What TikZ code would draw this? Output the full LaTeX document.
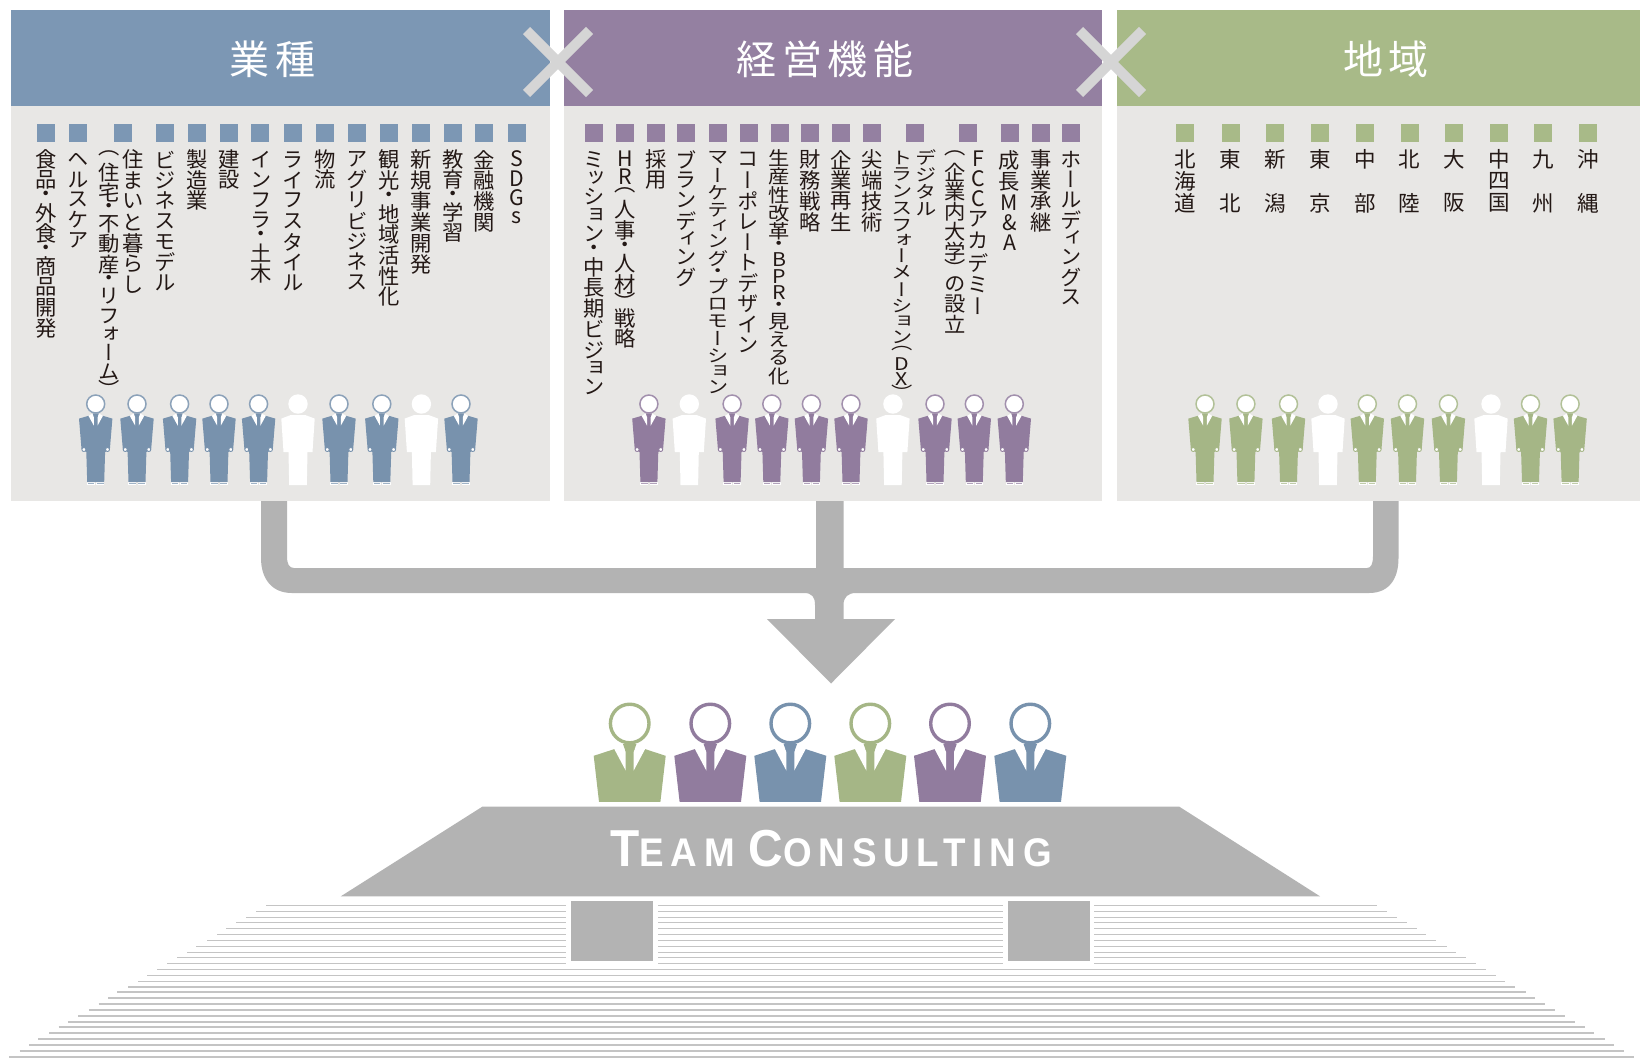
\documentclass[tikz,border=0pt]{standalone}
\usepackage{fontspec}
\usepackage{xcolor}
\newfontfamily\jpv[RawFeature={+vert}]{Noto Sans CJK JP}
\newfontfamily\jptitle[LetterSpace=14]{Noto Sans CJK JP}
\newfontfamily\capsfont[FakeStretch=0.92,LetterSpace=17]{Liberation Sans}
\definecolor{cblue}{HTML}{7C97B4}
\definecolor{cpurple}{HTML}{9480A1}
\definecolor{cgreen}{HTML}{A8BA88}
\definecolor{fblue}{HTML}{7892AD}
\definecolor{fpurple}{HTML}{917C9E}
\definecolor{fgreen}{HTML}{A5B686}
\definecolor{cpanel}{HTML}{E8E7E5}
\definecolor{cgray}{HTML}{B3B3B3}
\definecolor{ccross}{HTML}{D5D5D5}
\definecolor{cline}{HTML}{C4C4C4}
\definecolor{ctext}{HTML}{231815}
\newdimen\vbase \vbase=20.6pt
\newdimen\vpit
\newdimen\vrai
\newcommand\vfs{21.3}
\newcommand\vys{1}
\def\kDot{・}\def\kOpen{（}\def\kClose{）}\def\kA{ッ}\def\kB{ョ}\def\kC{ィ}\def\kD{ォ}
\makeatletter
\newcommand\vcellbox{%
  \vpit=\vbase \vrai=0pt
  \expandafter\ifnum\expandafter`\vc<128 \vpit=.9\vbase \fi
  \ifx\vc\kDot \vpit=.6\vbase \fi
  \ifx\vc\kOpen \vpit=.65\vbase \vrai=6pt \fi
  \ifx\vc\kClose \vpit=.65\vbase \vrai=-7.5pt \fi
  \ifx\vc\kA \vpit=.8\vbase \fi
  \ifx\vc\kB \vpit=.8\vbase \fi
  \ifx\vc\kC \vpit=.8\vbase \fi
  \ifx\vc\kD \vpit=.8\vbase \fi
  \vbox to \vpit{\vss\hbox to 22pt{\hss\raise\vrai\hbox{\scalebox{1}[\vys]{\vc}}\hss}\vss}}
\newcommand\vstack[1]{\vbox{\offinterlineskip\jpv\fontsize{\vfs}{\vfs}\selectfont\@tfor\vc:=#1\do{\vcellbox}}}
\makeatother
\newcommand\vcol[4][20.6]{\pgfmathsetmacro\vysx{min(1,#1/20.6)}\node[vtext] (#2) at (#3,149) {\vbase=#1pt\let\vys\vysx\vstack{#4}};}
\newcommand\hcol[3]{\node[vtext] (#1) at (#2,148.5) {\vbase=21.8pt\renewcommand\vfs{21.5}\vstack{#3}};}
\tikzset{
  vtext/.style={anchor=north,inner sep=0pt,text=ctext},
  title/.style={anchor=center,inner sep=0pt,text=white,font=\jptitle\fontsize{40}{40}\selectfont},
  crossbar/.style={line width=10pt,draw=ccross},
}
% small standing figure, coloured
\newcommand\smallfig[2]{%
  \begin{scope}[shift={(#1,404)}]
    \fill[white] (-8.7,78) rectangle (-0.6,81.3);
    \fill[white] (0.6,78) rectangle (8.7,81.3);
    \fill[#2!70!white] (-7.8,79.2) rectangle (-1.4,80);
    \fill[#2!70!white] (1.4,79.2) rectangle (7.8,80);
    \fill[#2] (-16.7,14.6) -- (-7.2,11.8) -- (7.2,11.8) -- (16.7,14.6) -- (14.2,45) -- (9.4,48) -- (8.5,78) -- (-8.5,78) -- (-9.4,48) -- (-14.2,45) -- cycle;
    \begin{scope}[scale=.46]
      \fill[white] (-15.7,25.7) -- (-4,47) -- (-4,28) -- (-6.7,20.6) -- cycle;
      \fill[white] (15.7,25.7) -- (4,47) -- (4,28) -- (6.7,20.6) -- cycle;
      \fill[#2] (-6.7,20.6) -- (6.7,20.6) -- (4,28) -- (-4,28) -- cycle;
    \end{scope}
    \filldraw[fill=white,draw=#2,line width=.9pt] (-11.8,45.5) circle (2);
    \filldraw[fill=white,draw=#2,line width=.9pt] (11.8,45.5) circle (2);
    \filldraw[fill=white,draw=#2!85!white,line width=1.5pt] (0,0) circle (9);
  \end{scope}}
% small standing figure, all white
\newcommand\whitefig[1]{%
  \begin{scope}[shift={(#1,404)}]
    \fill[white] (0,0) circle (9.7);
    \fill[white] (-16.7,14.6) -- (-7.2,11) -- (7.2,11) -- (16.7,14.6) -- (14.5,48) -- (9.5,48) -- (8.8,81) -- (-8.8,81) -- (-9.5,48) -- (-14.5,48) -- cycle;
  \end{scope}}
% large bust
\newcommand\bigfig[2]{%
  \begin{scope}[shift={(#1,723.5)}]
    \fill[#2] (-36,32.3) -- (-15.7,25.7) -- (15.7,25.7) -- (36,32.3) -- (30.7,78.3) -- (-30.7,78.3) -- cycle;
    \fill[white] (-15.7,25) -- (-4,47) -- (-4,28) -- (-6.7,20.6) -- cycle;
    \fill[white] (15.7,25) -- (4,47) -- (4,28) -- (6.7,20.6) -- cycle;
    \fill[#2] (-6.7,20.6) -- (6.7,20.6) -- (4,28) -- (-4,28) -- cycle;
    \draw[#2,line width=3.4pt] (0,0) circle (19.3);
  \end{scope}}
\begin{document}
\begin{tikzpicture}[x=1pt,y=-1pt]
\useasboundingbox (0,0) rectangle (1640,1058);
\fill[white] (0,0) rectangle (1640,1058);
% panels
\fill[cpanel] (11,106) rectangle (549.5,501);
\fill[cpanel] (564,106) rectangle (1102,501);
\fill[cpanel] (1117,106) rectangle (1640,501);
\fill[cblue] (11,9.5) rectangle (549.5,106);
\fill[cpurple] (564,9.5) rectangle (1102,106);
\fill[cgreen] (1117,9.5) rectangle (1640,106);
\node[title] (t1) at (272.5,59) {業種};
\node[title] (t2) at (825,59) {経営機能};
\node[title] (t3) at (1386,59) {地域};
\draw[crossbar] (526.5,30.5) -- (589.5,93.5) (526.5,93.5) -- (589.5,30.5);
\draw[crossbar] (1079.5,30.5) -- (1142.5,93.5) (1079.5,93.5) -- (1142.5,30.5);
% squares
\foreach \x in {46,78,122.6,164.7,197,229.4,260.4,293,325,357,389,421,453,484,516.5}
  \fill[cblue] (\x-9,124) rectangle (\x+9,141.5);
\foreach \x in {594.3,625.4,656.4,686.4,717.5,748.6,779.6,809.6,840.7,872,914.6,967.9,1009.6,1040.7,1070.7}
  \fill[cpurple] (\x-9,124) rectangle (\x+9,141.5);
\foreach \x in {1185.4,1230.7,1275.3,1319.9,1364.9,1409.5,1453.8,1498.8,1543.4,1588}
  \fill[cgreen] (\x-9,124) rectangle (\x+9,141.5);
% column texts, panel 1
\vcol{a1}{46}{食品・外食・商品開発}
\vcol[20.2]{a2}{78}{ヘルスケア}
\vcol[20.9]{a3}{133}{住まいと暮らし}
\vcol[20]{a3b}{109}{（住宅・不動産・リフォーム）}
\vcol{a4}{165}{ビジネスモデル}
\vcol{a5}{197}{製造業}
\vcol{a6}{229}{建設}
\vcol[20.3]{a7}{261}{インフラ・土木}
\vcol{a8}{293}{ライフスタイル}
\vcol[20.4]{a9}{325}{物流}
\vcol[20.4]{a10}{357}{アグリビジネス}
\vcol[20.8]{a11}{389}{観光・地域活性化}
\vcol[21]{a12}{421}{新規事業開発}
\vcol[20.4]{a13}{453}{教育・学習}
\vcol[21]{a14}{484.5}{金融機関}
\vcol[21.6]{a15}{516.5}{SDGs}
% panel 2
\vcol[20.7]{b1}{594.3}{ミッション・中長期ビジョン}
\vcol[20.6]{b2}{625.6}{HR（人事・人材）戦略}
\vcol{b3}{656.4}{採用}
\vcol[20.4]{b4}{686.6}{ブランディング}
\vcol[17.4]{b5}{718}{マーケティング・プロモーション}
\vcol{b6}{748.6}{コーポレートデザイン}
\vcol[18.3]{b7}{779}{生産性改革・BPR・見える化}
\vcol[20.8]{b8}{810}{財務戦略}
\vcol[20.8]{b9}{841}{企業再生}
\vcol[20.8]{b10}{872}{尖端技術}
\vcol[17]{b11}{926}{デジタル}
\vcol[16.9]{b11b}{902}{トランスフォーメーション（DX）}
\vcol[21.8]{b12}{978}{FCCアカデミー}
\vcol[19.9]{b12b}{955}{（企業内大学）の設立}
\vcol[21.9]{b13}{1009.6}{成長M\&A}
\vcol[20.8]{b14}{1040.7}{事業承継}
\vcol[20.3]{b15}{1070.7}{ホールディングス}
% panel 3
\hcol{c1}{1185.4}{北海道}
\hcol{c2}{1230.7}{東　北}
\hcol{c3}{1275.3}{新　潟}
\hcol{c4}{1319.9}{東　京}
\hcol{c5}{1364.9}{中　部}
\hcol{c6}{1409.5}{北　陸}
\hcol{c7}{1453.8}{大　阪}
\hcol{c8}{1498.8}{中四国}
\hcol{c9}{1543.4}{九　州}
\hcol{c10}{1588}{沖　縄}
% small figures
\foreach \x in {95.7,137,179.6,219,258.6,339,381.8,461} {\smallfig{\x}{fblue}}
\foreach \x in {298,421.4} {\whitefig{\x}}
\foreach \x in {648.9,732.1,771.8,811.4,851,935,974.3,1014.3} {\smallfig{\x}{fpurple}}
\foreach \x in {689.3,892.9} {\whitefig{\x}}
\foreach \x in {1205,1245.9,1288.5,1367.3,1407.5,1448.4,1530.5,1570.1} {\smallfig{\x}{fgreen}}
\foreach \x in {1328,1491} {\whitefig{\x}}
% collecting arrow
\fill[cgray] (261,501) -- (261,558) .. controls (261,579) and (272,593) .. (292,593) -- (804,593) .. controls (812,593) and (815,597) .. (815,605) -- (815,619) -- (767,619) -- (831,683.5) -- (895,619) -- (843.5,619) -- (843.5,605) .. controls (843.5,597) and (848,593) .. (856,593) -- (1369,593) .. controls (1389,593) and (1398.5,579) .. (1398.5,558) -- (1398.5,501) -- (1373,501) -- (1373,556) .. controls (1373,564) and (1371,568) .. (1367,568) -- (843.5,568) -- (843.5,501) -- (816,501) -- (816,568) -- (294,568) .. controls (289,568) and (287,564) .. (287,556) -- (287,501) -- cycle;
% big busts
\bigfig{629.7}{fgreen}
\bigfig{710.3}{fpurple}
\bigfig{790.3}{fblue}
\bigfig{870.3}{fgreen}
\bigfig{950}{fpurple}
\bigfig{1030.3}{fblue}
% roof
\fill[cgray] (482.6,806.5) -- (1179,806.5) -- (1320,896.3) -- (340.8,896.3) -- cycle;
\node[anchor=base,inner sep=0pt,text=white] (roof) at (831,866) {\capsfont\bfseries\fontsize{52}{52}\selectfont T\fontsize{40}{40}\selectfont EAM\hspace{14pt}\fontsize{52}{52}\selectfont C\fontsize{40}{40}\selectfont ONSULTING};
% pillars
\fill[cgray] (571,900.5) rectangle (652.5,960.5);
\fill[cgray] (1008.4,900.5) rectangle (1089.7,960.5);
% stripes
\foreach \yy/\xl [count=\i] in {905.7/266,911.7/256,917.7/246.4,922.7/236,928.7/226,934.7/217,940.7/207,946.7/196.4,952.3/187,957.3/177,963.3/167.4,969.3/157,975.3/147.3,981.3/138,987.3/128,992/117.4,998/108,1004/98.7,1010/88.8,1016/78,1021.7/67.9,1026.7/58.5,1032.7/49,1038.7/38.4,1044.7/29,1050.7/19.6,1056.5/9.4} {
  \pgfmathsetmacro\xr{1643.3-\xl}
  \pgfmathsetmacro\lw{1.2+0.03*\i}
  \ifnum\i<12
    \draw[cline,line width=\lw pt] (\xl,\yy) -- (566,\yy) (658,\yy) -- (1003,\yy) (1094,\yy) -- (\xr,\yy);
  \else
    \draw[cline,line width=\lw pt] (\xl,\yy) -- (\xr,\yy);
  \fi
}
\end{tikzpicture}
\end{document}
